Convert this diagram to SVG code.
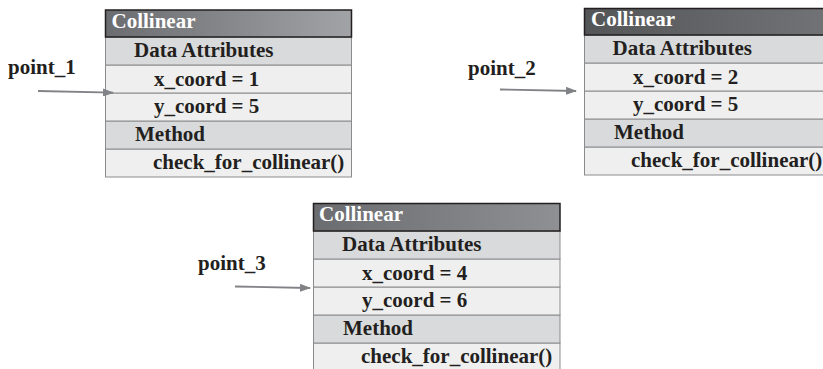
<svg xmlns="http://www.w3.org/2000/svg" width="823" height="369" viewBox="0 0 823 369">
<defs>
<linearGradient id="g1" x1="0" y1="0" x2="1" y2="0"><stop offset="0" stop-color="#6b6c6f"/><stop offset="1" stop-color="#a2a3a6"/></linearGradient>
<linearGradient id="g2" x1="0" y1="0" x2="1" y2="0"><stop offset="0" stop-color="#545557"/><stop offset="1" stop-color="#727376"/></linearGradient>
<linearGradient id="g3" x1="0" y1="0" x2="1" y2="0"><stop offset="0" stop-color="#6b6c6f"/><stop offset="1" stop-color="#8f9093"/></linearGradient>
<marker id="arr" markerUnits="userSpaceOnUse" markerWidth="11" markerHeight="8" refX="10" refY="4" orient="auto"><path d="M0,0 L11,4 L0,8 z" fill="#808285"/></marker>
</defs>
<style>
text{font-family:'Liberation Serif','Times New Roman',serif;font-weight:700;font-size:21px;fill:#231f20}
.hdt{fill:#ffffff}
.hd{stroke:#231f20;stroke-width:1.5}
.sec{fill:#d9dadb;stroke:#8a8b8d;stroke-width:1}
.att{fill:#efefef;stroke:#8a8b8d;stroke-width:1}
.conn{stroke:#808285;stroke-width:1.8;fill:none}
</style>
<g font-family="Liberation Serif, Times New Roman, serif" font-weight="bold" font-size="21">
<g id="node-point1-object">
<rect class="att" x="105.5" y="149" width="246" height="28"/>
<rect class="sec" x="105.5" y="121" width="246" height="28"/>
<rect class="att" x="105.5" y="93" width="246" height="28"/>
<rect class="att" x="105.5" y="65" width="246" height="28"/>
<rect class="sec" x="105.5" y="37" width="246" height="28"/>
<rect class="hd" fill="url(#g1)" x="105.5" y="10" width="246" height="27"/>
<text class="hdt" x="111.5" y="27.5">Collinear</text>
<text x="134" y="57">Data Attributes</text>
<text x="154" y="85.5">x_coord = 1</text>
<text x="154" y="113">y_coord = 5</text>
<text x="135" y="141">Method</text>
<text x="153" y="168.5">check_for_collinear()</text>
</g>
<g id="node-point2-object">
<rect class="att" x="584.5" y="147" width="246" height="28"/>
<rect class="sec" x="584.5" y="119" width="246" height="28"/>
<rect class="att" x="584.5" y="91" width="246" height="28"/>
<rect class="att" x="584.5" y="63" width="246" height="28"/>
<rect class="sec" x="584.5" y="35" width="246" height="28"/>
<rect class="hd" fill="url(#g2)" x="584.5" y="8.5" width="246" height="26.5"/>
<text class="hdt" x="591" y="26">Collinear</text>
<text x="612.5" y="55">Data Attributes</text>
<text x="633" y="83.5">x_coord = 2</text>
<text x="633" y="111">y_coord = 5</text>
<text x="614" y="139">Method</text>
<text x="631" y="166.5">check_for_collinear()</text>
</g>
<g id="node-point3-object">
<rect class="att" x="313.5" y="343" width="246.5" height="28"/>
<rect class="sec" x="313.5" y="315" width="246.5" height="28"/>
<rect class="att" x="313.5" y="287" width="246.5" height="28"/>
<rect class="att" x="313.5" y="259" width="246.5" height="28"/>
<rect class="sec" x="313.5" y="231" width="246.5" height="28"/>
<rect class="hd" fill="url(#g3)" x="313.5" y="203.5" width="246.5" height="27.5"/>
<text class="hdt" x="319" y="221">Collinear</text>
<text x="342" y="251">Data Attributes</text>
<text x="362" y="279.5">x_coord = 4</text>
<text x="362" y="307">y_coord = 6</text>
<text x="343" y="335">Method</text>
<text x="361" y="362.5">check_for_collinear()</text>
</g>
<g id="node-point1"><text x="8" y="74">point_1</text></g>
<g id="node-point2"><text x="468" y="75">point_2</text></g>
<g id="node-point3"><text x="198" y="270">point_3</text></g>
</g>
<g id="connectors">
<line class="conn" x1="38" y1="91" x2="113" y2="92.7" marker-end="url(#arr)"/>
<line class="conn" x1="500" y1="89.5" x2="576" y2="91" marker-end="url(#arr)"/>
<line class="conn" x1="235" y1="286.5" x2="310" y2="288" marker-end="url(#arr)"/>
</g>
</svg>
